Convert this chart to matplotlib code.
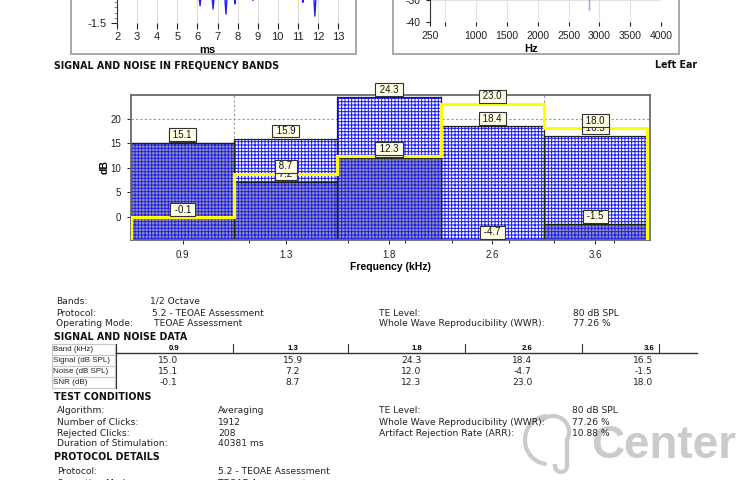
import matplotlib
matplotlib.use("Agg")
import matplotlib.pyplot as plt
from matplotlib.patches import Rectangle
from matplotlib.ticker import FixedLocator, MultipleLocator
import numpy as np

plt.rcParams['font.family'] = ['Liberation Sans', 'DejaVu Sans']
plt.rcParams['hatch.linewidth'] = 0.7

# band data (kHz, dB)
bands = ["0.9", "1.3", "1.8", "2.6", "3.6"]
signal = [15.0, 15.9, 24.3, 18.4, 16.5]
noise = [15.1, 7.2, 12.0, -4.7, -1.5]
snr = [-0.1, 8.7, 12.3, 23.0, 18.0]

# what is left of the waveform / spectrum plots cut at the top of the page
wave_ms = [6.13, 6.78, 7.42, 7.87, 8.77, 11.25, 11.85]
wave_min = [-1.17, -1.23, -1.33, -1.13, -1.06, -1.10, -1.37]
wave_ticks = list(range(2, 14))
spec_hz = [2830]
spec_db = [-34.5]
spec_ticks = [250, 500, 1000, 1500, 2000, 2500, 3000, 3500, 4000]
spec_labels = ["250", "", "1000", "1500", "2000", "2500", "3000", "3500", "4000"]

info_left = [("Bands:", "1/2 Octave"), ("Protocol:", "5.2 - TEOAE Assessment"),
             ("Operating Mode:", "TEOAE Assessment")]
info_right = [("TE Level:", "80 dB SPL"), ("Whole Wave Reproducibility (WWR):", "77.26 %")]
row_names = ["Band (kHz)", "Signal (dB SPL)", "Noise (dB SPL)", "SNR (dB)"]
test_left = [("Algorithm:", "Averaging"), ("Number of Clicks:", "1912"),
             ("Rejected Clicks:", "208"), ("Duration of Stimulation:", "40381 ms")]
test_right = [("TE Level:", "80 dB SPL"), ("Whole Wave Reproducibility (WWR):", "77.26 %"),
              ("Artifact Rejection Rate (ARR):", "10.88 %")]
proto = [("Protocol:", "5.2 - TEOAE Assessment"), ("Operating Mode:", "TEOAE Assessment")]

W, H = 750, 480
fig = plt.figure(figsize=(7.5, 4.8), dpi=100)


def box(l, t, r, b):
    # pixel box (y down) -> figure fraction rect
    return [l / W, 1 - b / H, (r - l) / W, (b - t) / H]


# ---- top-left: waveform (cut off) ----
axw = fig.add_axes(box(116.7, -130, 342, 22.7))
axw.set_xlim(1.98, 13.2)
axw.set_ylim(-1.5, 1.5)
for t, v in zip(wave_ms, wave_min):
    axw.plot([t - 0.07, t, t + 0.07], [-0.9, v, -0.9], color='#2020ff', lw=1.0)
axw.set_xticks(wave_ticks)
axw.set_yticks([-1.5])
axw.set_yticklabels(["-1.5"])
axw.yaxis.set_minor_locator(MultipleLocator(0.1))
axw.tick_params(axis='y', which='minor', length=2, width=0.5, color='#555555')
axw.tick_params(axis='both', which='major', labelsize=8, length=4, width=0.8, colors='#222222')
axw.tick_params(axis='x', pad=3)
axw.grid(axis='x', color='#dddddd', lw=0.8)
for s in ['top', 'right', 'bottom']:
    axw.spines[s].set_visible(False)
axw.spines['left'].set_color('#333333')

# ---- top-right: spectrum (cut off) ----
axs = fig.add_axes(box(430, -100, 661, 22))
axs.set_xlim(250, 4000)
axs.set_ylim(-40, 16.2)
axs.vlines(spec_hz, spec_db, 10, color='#9a9aff', lw=1.0)
axs.set_xticks(spec_ticks)
axs.set_xticklabels(spec_labels)
axs.set_yticks([-40, -30])
axs.set_yticklabels(["-40", "-30"])
axs.tick_params(axis='both', labelsize=7.5, length=3, width=0.8, colors='#222222')
axs.grid(color='#e2e2e2', lw=0.8)
for s in ['top', 'right', 'bottom']:
    axs.spines[s].set_visible(False)
axs.spines['left'].set_color('#333333')

# ---- main band chart ----
ax = fig.add_axes(box(131, 95, 650, 240))
x = np.arange(len(bands))
floor = -4.7
ax.set_xlim(-0.5, 4.53)
ax.set_ylim(floor, 24.8)

for e in x[:-1] + 0.5:
    ax.axvline(e, color='#999999', ls=(0, (2, 2)), lw=0.8, zorder=0)
for yv in [0, 5, 10, 15, 20]:
    ax.axhline(yv, color='#999999', ls=(0, (2, 2)), lw=0.8, zorder=0)

sig_h = np.array(signal) - floor
noi_h = np.array(noise) - floor
ax.bar(x, sig_h, bottom=floor, width=1.0, color='white', edgecolor='#1818ff',
       hatch='+++++', linewidth=0, zorder=1)
ax.bar(x, sig_h, bottom=floor, width=1.0, fill=False, edgecolor='#202020', lw=0.9, zorder=2)
ax.bar(x, noi_h, bottom=floor, width=1.0, color='#9494b0', edgecolor='#2020f0',
       hatch='+++++', linewidth=0, zorder=2)
ax.bar(x, noi_h, bottom=floor, width=1.0, fill=False, edgecolor='#202020', lw=0.9, zorder=2)

ax.stairs(snr, np.arange(len(bands) + 1) - 0.5, baseline=floor, color='#ffff00', lw=2.2, zorder=3)


def tag(i, v):
    ax.annotate(f" {v:.1f} ", (x[i], v), xytext=(0, 2), textcoords='offset points',
                ha='center', va='bottom', fontsize=7, color='#111111', annotation_clip=False,
                bbox=dict(boxstyle='square,pad=0.15', fc='#ffffe6', ec='#333333', lw=0.8), zorder=5)


for i in range(len(bands)):
    tag(i, signal[i])
for i in range(len(bands)):
    tag(i, noise[i])
for i in range(len(bands)):
    tag(i, snr[i])

ax.set_xticks(x)
ax.set_xticklabels(bands)
ax.xaxis.set_minor_locator(FixedLocator([0.64, 1.6, 2.16, 2.61, 3.16, 3.6, 4.18]))
ax.set_yticks([0, 5, 10, 15, 20])
ax.tick_params(axis='both', labelsize=7, length=3, width=0.7, colors='#222222', pad=4)
ax.tick_params(axis='x', which='minor', length=2, width=0.6)
for s in ax.spines.values():
    s.set_color('#6a6a6a')
    s.set_linewidth(1.3)
ax.set_xlabel("Frequency (kHz)", fontsize=7.5, fontweight='bold', labelpad=2)
ax.set_ylabel("dB", fontsize=7.5, fontweight='bold', labelpad=1)

# ---- page overlay: frames, headings, data blocks ----
ov = fig.add_axes([0, 0, 1, 1])
ov.set_xlim(0, W)
ov.set_ylim(H, 0)
ov.axis('off')

for l, r in [(71, 356), (393, 679)]:
    ov.add_patch(Rectangle((l, -10), r - l, 64, fill=False, ec='#a8a8a8', lw=1.4))
ov.text(207, 50, "ms", fontsize=8, fontweight='bold', ha='center', va='center')
ov.text(531, 49, "Hz", fontsize=8, fontweight='bold', ha='center', va='center')

rep = dict(family=['DejaVu Sans'], fontsize=6.6, va='center', color='#222222', zorder=3)
hdr = dict(family=['DejaVu Sans'], fontsize=6.85, fontweight='bold', va='center', color='#111111', zorder=3)

ov.text(54, 65, "SIGNAL AND NOISE IN FREQUENCY BANDS", **hdr)
ov.text(655, 65, "Left Ear", **hdr)

for (k, v), yy, vx in zip(info_left, [301, 313, 324], [150, 152, 154]):
    ov.text(56, yy, k, **rep)
    ov.text(vx, yy, v, **rep)
for (k, v), yy in zip(info_right, [313, 324]):
    ov.text(379, yy, k, **rep)
    ov.text(573, yy, v, **rep)

ov.text(54, 337.5, "SIGNAL AND NOISE DATA", **hdr)

# table
row_y = [349.5, 360.5, 371.5, 382.5]
for name, yy in zip(row_names, row_y):
    ov.add_patch(Rectangle((52, yy - 5.5), 63, 11, fill=False, ec='#c8c8c8', lw=0.8))
    ov.text(53, yy, name, fontsize=5.8, va='center', color='#222222')
ov.plot([116, 697], [352.5, 352.5], color='#333333', lw=1.0)
for xv in [116, 233, 348, 465, 582, 659]:
    ov.plot([xv, xv], [344, 352.5], color='#333333', lw=0.8)
ov.plot([116, 116], [344, 388], color='#333333', lw=0.8)
head_x = [174, 293, 417, 527, 649]
val_x = [168, 293, 411, 522, 643]
for hx, b in zip(head_x, bands):
    ov.text(hx, 348.5, b, fontsize=5.6, fontweight='bold', ha='center', va='center')
for vx, s, n, r in zip(val_x, signal, noise, snr):
    for yy, v in zip(row_y[1:], [s, n, r]):
        ov.text(vx, yy, f"{v:.1f}", ha='center', **rep)

ov.text(54, 396.5, "TEST CONDITIONS", **hdr)
for (k, v), yy in zip(test_left, [410.5, 422.5, 433, 443.5]):
    ov.text(57, yy, k, **rep)
    ov.text(218, yy, v, **rep)
for (k, v), yy in zip(test_right, [410.5, 422.5, 433]):
    ov.text(379, yy, k, **rep)
    ov.text(572, yy, v, **rep)

ov.text(54, 457.5, "PROTOCOL DETAILS", **hdr)
for (k, v), yy in zip(proto, [471, 483]):
    ov.text(57, yy, k, **rep)
    ov.text(218, yy, v, **rep)

# watermark
ov.text(591, 446, "Center", fontsize=33, fontweight='bold', color='#cbcbcb', va='center', zorder=1)
tt = np.linspace(0.55 * np.pi, 1.45 * np.pi, 40)
ov.plot(548 + 23 * np.cos(tt), 440 - 24 * np.sin(tt), color='#cbcbcb', lw=3, zorder=1)
tt = np.linspace(-0.15 * np.pi, 0.75 * np.pi, 30)
ov.plot(553 + 16 * np.cos(tt), 432 - 16 * np.sin(tt), color='#cbcbcb', lw=3, zorder=1)
ov.plot([567, 567], [440, 466], color='#cbcbcb', lw=3, zorder=1)
tt = np.linspace(np.pi, 2 * np.pi, 20)
ov.plot(561 + 6 * np.cos(tt), 466 - 6 * np.sin(tt), color='#cbcbcb', lw=3, zorder=1)

fig.savefig("out.png", dpi=100)
